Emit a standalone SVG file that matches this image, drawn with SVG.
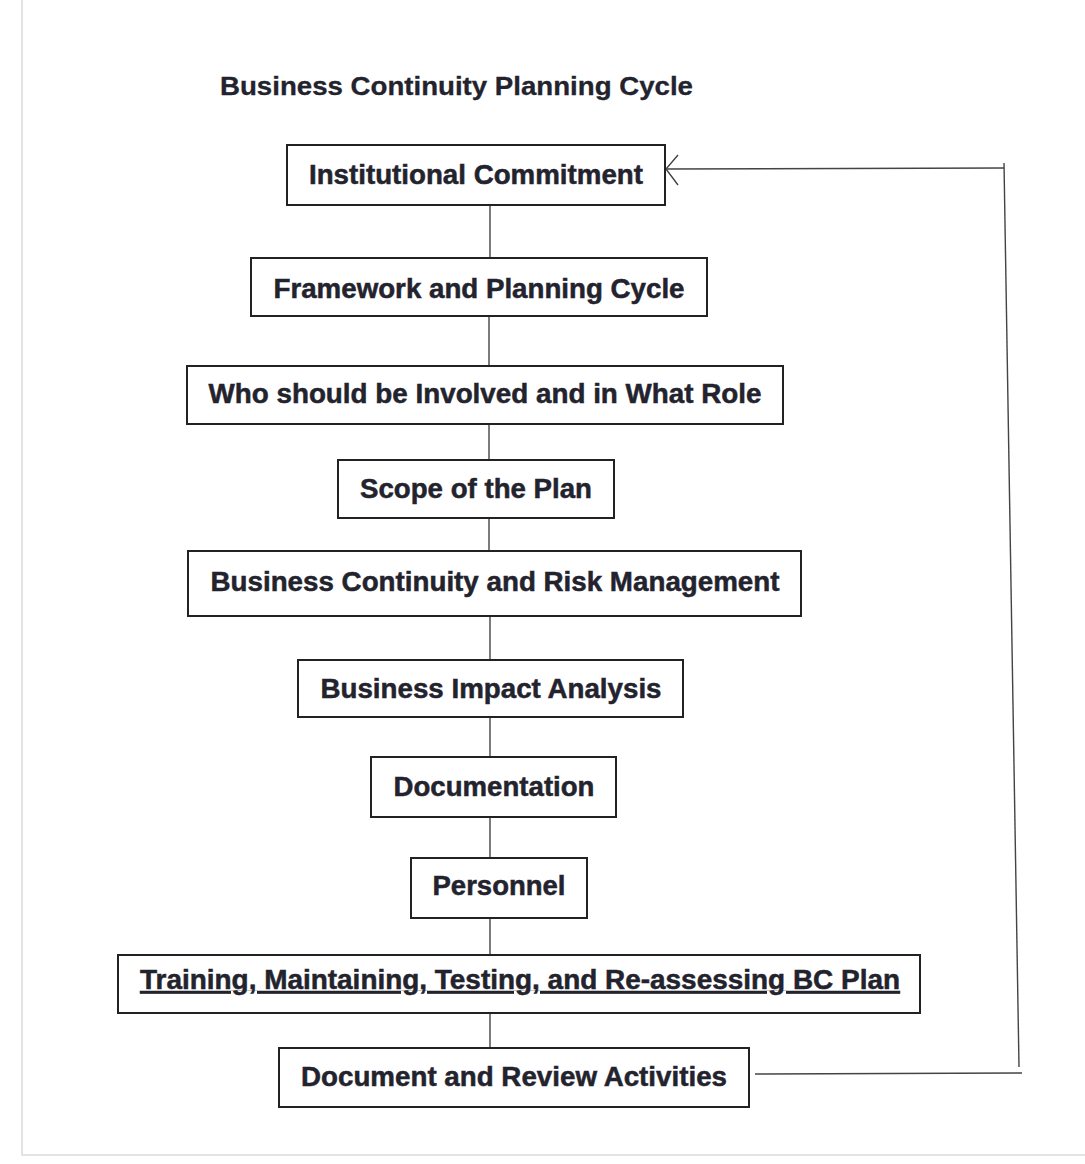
<svg xmlns="http://www.w3.org/2000/svg" width="1085" height="1164" viewBox="0 0 1085 1164">
<style>
.box{fill:#ffffff;stroke:#222;stroke-width:2}
.lbl{font-family:"Liberation Sans",Arial,sans-serif;font-weight:bold;font-size:27px;fill:#23232e;stroke:#23232e;stroke-width:0.5;text-anchor:middle}
.title{font-family:"Liberation Sans",Arial,sans-serif;font-weight:bold;font-size:25px;fill:#23232e;stroke:#23232e;stroke-width:0.3}
.conn{stroke:#444;stroke-width:1.4;fill:none}
.edge{stroke:#d8dbe0;stroke-width:1.5;fill:none}
</style>
<rect width="1085" height="1164" fill="#ffffff"/>
<path class="edge" d="M22,0 V1155 H1085"/>
<text class="title" x="220" y="95" textLength="473" lengthAdjust="spacingAndGlyphs">Business Continuity Planning Cycle</text>
<g id="connectors">
<line class="conn" x1="490" y1="206" x2="490" y2="258"/>
<line class="conn" x1="489" y1="317" x2="489" y2="366"/>
<line class="conn" x1="489" y1="425" x2="489" y2="460"/>
<line class="conn" x1="489" y1="519" x2="489" y2="551"/>
<line class="conn" x1="490" y1="617" x2="490" y2="660"/>
<line class="conn" x1="490" y1="718" x2="490" y2="757"/>
<line class="conn" x1="490" y1="818" x2="490" y2="858"/>
<line class="conn" x1="490" y1="919" x2="490" y2="955"/>
<line class="conn" x1="490" y1="1014" x2="490" y2="1048"/>
<polyline class="conn" points="755,1074 1022,1073"/>
<polyline class="conn" points="1019,1067 1004,163"/>
<polyline class="conn" points="1004,168 667,169"/>
<polyline class="conn" points="678,155 666,169 678,185"/>
</g>
<g id="n1"><rect class="box" x="287" y="145" width="378" height="60"/><text class="lbl" x="476" y="184" textLength="334" lengthAdjust="spacingAndGlyphs">Institutional Commitment</text></g>
<g id="n2"><rect class="box" x="251" y="258" width="456" height="58"/><text class="lbl" x="479" y="298" textLength="411" lengthAdjust="spacingAndGlyphs">Framework and Planning Cycle</text></g>
<g id="n3"><rect class="box" x="187" y="366" width="596" height="58"/><text class="lbl" x="485" y="403" textLength="553" lengthAdjust="spacingAndGlyphs">Who should be Involved and in What Role</text></g>
<g id="n4"><rect class="box" x="338" y="460" width="276" height="58"/><text class="lbl" x="476" y="498" textLength="232" lengthAdjust="spacingAndGlyphs">Scope of the Plan</text></g>
<g id="n5"><rect class="box" x="188" y="551" width="613" height="65"/><text class="lbl" x="495" y="591" textLength="569" lengthAdjust="spacingAndGlyphs">Business Continuity and Risk Management</text></g>
<g id="n6"><rect class="box" x="298" y="660" width="385" height="57"/><text class="lbl" x="491" y="698" textLength="341" lengthAdjust="spacingAndGlyphs">Business Impact Analysis</text></g>
<g id="n7"><rect class="box" x="371" y="757" width="245" height="60"/><text class="lbl" x="494" y="796" textLength="201" lengthAdjust="spacingAndGlyphs">Documentation</text></g>
<g id="n8"><rect class="box" x="411" y="858" width="176" height="60"/><text class="lbl" x="499" y="895" textLength="133" lengthAdjust="spacingAndGlyphs">Personnel</text></g>
<g id="n9"><rect class="box" x="118" y="955" width="802" height="58"/><text class="lbl" x="520" y="989" textLength="760" lengthAdjust="spacingAndGlyphs" text-decoration="underline">Training, Maintaining, Testing, and Re-assessing BC Plan</text></g>
<g id="n10"><rect class="box" x="279" y="1048" width="470" height="59"/><text class="lbl" x="514" y="1086" textLength="426" lengthAdjust="spacingAndGlyphs">Document and Review Activities</text></g>
</svg>
